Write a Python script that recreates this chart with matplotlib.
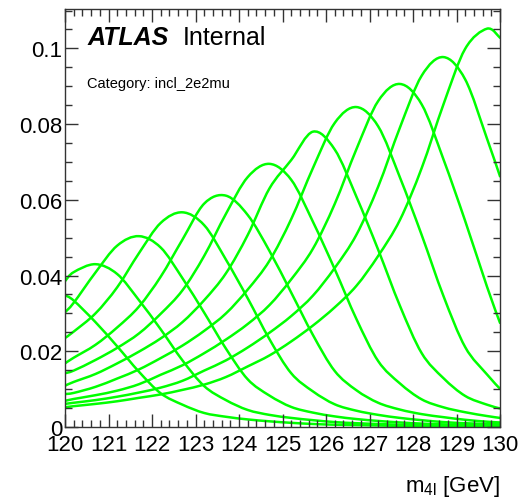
"""
Signal m4l shapes for a scan of Higgs mass hypotheses (incl_2e2mu)
"""

import numpy as np
import matplotlib
matplotlib.use('Agg')
import matplotlib.pyplot as plt
from matplotlib.path import Path
from matplotlib.patches import PathPatch
from matplotlib.ticker import MultipleLocator

# m4l sampling points [GeV]
m4l = [120.0, 120.2, 120.7, 121.2, 121.7, 122.2, 122.7, 123.2, 123.7, 124.2, 124.7,
       125.2, 125.7, 126.2, 126.7, 127.2, 127.7, 128.2, 128.7, 129.2, 129.7, 130.0]

# normalised shape for each mass hypothesis, evaluated at m4l
pdf_119p7 = [0.0348, 0.0334, 0.0277, 0.0213, 0.0146, 0.0089, 0.0059, 0.0037, 0.0027, 0.0020, 0.0015,
             0.0011, 0.0008, 0.0006, 0.0005, 0.0004, 0.0003, 0.00025, 0.0002, 0.0002, 0.00018, 0.00015]
pdf_120p7 = [0.0385, 0.0409, 0.0430, 0.0404, 0.0335, 0.0258, 0.0176, 0.0108, 0.0071, 0.0045, 0.0032,
             0.0024, 0.0018, 0.0013, 0.0010, 0.0008, 0.0006, 0.0005, 0.0004, 0.0003, 0.00026, 0.00024]
pdf_121p7 = [0.0303, 0.0328, 0.0408, 0.0479, 0.0504, 0.0474, 0.0393, 0.0302, 0.0207, 0.0126, 0.0083,
             0.0053, 0.0038, 0.0028, 0.0021, 0.0016, 0.0012, 0.0009, 0.0007, 0.00055, 0.00045, 0.0004]
pdf_122p7 = [0.0235, 0.0252, 0.0300, 0.0369, 0.0459, 0.0539, 0.0567, 0.0533, 0.0442, 0.0340, 0.0232,
             0.0142, 0.0094, 0.0060, 0.0043, 0.0032, 0.0024, 0.0018, 0.0013, 0.0010, 0.0008, 0.0007]
pdf_123p7 = [0.0168, 0.0183, 0.0217, 0.0263, 0.0318, 0.0397, 0.0495, 0.0590, 0.0611, 0.0560, 0.0465,
             0.0355, 0.0243, 0.0148, 0.0097, 0.0064, 0.0046, 0.0034, 0.0026, 0.0019, 0.0014, 0.0012]
pdf_124p7 = [0.0142, 0.0149, 0.0177, 0.0209, 0.0247, 0.0299, 0.0361, 0.0452, 0.0563, 0.0660, 0.0695,
             0.0653, 0.0542, 0.0417, 0.0285, 0.0174, 0.0115, 0.0073, 0.0052, 0.0039, 0.0029, 0.0024]
pdf_125p7 = [0.0109, 0.0119, 0.0140, 0.0168, 0.0199, 0.0234, 0.0277, 0.0335, 0.0406, 0.0507, 0.0630,
             0.0705, 0.0780, 0.0733, 0.0608, 0.0468, 0.0320, 0.0195, 0.0129, 0.0082, 0.0059, 0.0049]
pdf_126p7 = [0.0087, 0.0090, 0.0106, 0.0128, 0.0152, 0.0182, 0.0215, 0.0254, 0.0300, 0.0363, 0.0439,
             0.0549, 0.0684, 0.0803, 0.0845, 0.0794, 0.0659, 0.0507, 0.0346, 0.0211, 0.0139, 0.0101]
pdf_127p7 = [0.0069, 0.0074, 0.0084, 0.0096, 0.0113, 0.0138, 0.0163, 0.0195, 0.0231, 0.0272, 0.0322,
             0.0390, 0.0471, 0.0589, 0.0734, 0.0861, 0.0906, 0.0852, 0.0707, 0.0544, 0.0371, 0.0275]
pdf_128p7 = [0.0061, 0.0064, 0.0071, 0.0080, 0.0091, 0.0104, 0.0122, 0.0149, 0.0176, 0.0210, 0.0249,
             0.0293, 0.0347, 0.0420, 0.0508, 0.0635, 0.0791, 0.0928, 0.0977, 0.0918, 0.0762, 0.0662]
pdf_129p7 = [0.0052, 0.0055, 0.0061, 0.0068, 0.0077, 0.0086, 0.0098, 0.0112, 0.0132, 0.0160, 0.0189,
             0.0226, 0.0268, 0.0316, 0.0373, 0.0452, 0.0547, 0.0684, 0.0852, 0.0999, 0.1052, 0.1028]

x_ticks = [120, 121, 122, 123, 124, 125, 126, 127, 128, 129, 130]
y_ticks = [0, 0.02, 0.04, 0.06, 0.08, 0.1]
y_tick_labels = ['0', '0.02', '0.04', '0.06', '0.08', '0.1']

GREEN = '#00ff00'


def smooth_path(xs, ys):
    """Catmull-Rom style cubic Bezier path through the sampled points"""
    pts = np.column_stack([xs, ys]).astype(float)
    n = len(pts)
    verts = [pts[0]]
    codes = [Path.MOVETO]
    for i in range(n - 1):
        p0 = pts[max(i - 1, 0)]
        p1 = pts[i]
        p2 = pts[i + 1]
        p3 = pts[min(i + 2, n - 1)]
        c1 = p1 + (p2 - p0) / 6.0
        c2 = p2 - (p3 - p1) / 6.0
        verts += [c1, c2, p2]
        codes += [Path.CURVE4] * 3
    return Path(verts, codes)


plt.rcParams['font.family'] = ['Liberation Sans', 'DejaVu Sans']
plt.rcParams['mathtext.fontset'] = 'custom'
plt.rcParams['mathtext.rm'] = 'Liberation Sans'
plt.rcParams['mathtext.it'] = 'Liberation Sans'

fig = plt.figure(figsize=(5.23, 5.02), dpi=100)
ax = fig.add_axes([65 / 523, 74 / 502, 435 / 523, 418 / 502])

curves = [pdf_119p7, pdf_120p7, pdf_121p7, pdf_122p7, pdf_123p7, pdf_124p7,
          pdf_125p7, pdf_126p7, pdf_127p7, pdf_128p7, pdf_129p7]
for shape in curves:
    ax.add_patch(PathPatch(smooth_path(m4l, shape), fill=False,
                           edgecolor=GREEN, linewidth=1.8, capstyle='round'))

ax.set_xlim(120, 130)
ax.set_ylim(0, 0.1104)

ax.set_xticks(x_ticks)
ax.set_xticklabels([str(t) for t in x_ticks])
ax.set_yticks(y_ticks)
ax.set_yticklabels(y_tick_labels)
ax.xaxis.set_minor_locator(MultipleLocator(0.2))
ax.yaxis.set_minor_locator(MultipleLocator(0.005))

ax.tick_params(which='both', direction='in', top=True, right=True,
               color='#333333', width=1.0)
ax.tick_params(which='major', length=9.5)
ax.tick_params(which='minor', length=5)
ax.tick_params(axis='both', which='major', labelsize=16)
ax.tick_params(axis='y', pad=2)
ax.tick_params(axis='x', pad=5)

for spine in ax.spines.values():
    spine.set_color('#333333')
    spine.set_linewidth(1.0)

fig.text(500 / 523, 10 / 502, r'm$_{\mathrm{4l}}$ [GeV]', ha='right', va='baseline',
         fontsize=16)

ax.text(88 / 523, (502 - 45) / 502, 'ATLAS', transform=fig.transFigure,
        fontsize=18, fontweight='bold', fontstyle='italic', va='baseline')
ax.text(183 / 523, (502 - 45) / 502, 'Internal', transform=fig.transFigure,
        fontsize=18, va='baseline')
ax.text(87 / 523, (502 - 88.5) / 502, 'Category: incl_2e2mu', transform=fig.transFigure,
        fontsize=10.5, va='baseline')

fig.savefig('out.png', dpi=100)
